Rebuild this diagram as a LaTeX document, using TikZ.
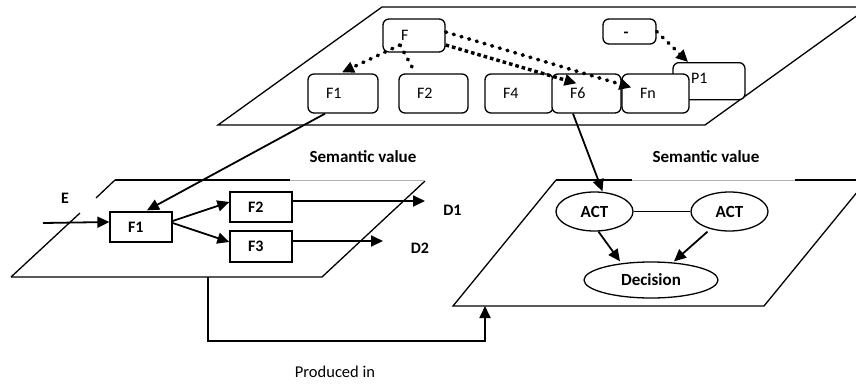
\documentclass[tikz,border=0pt]{standalone}
\usepackage{fontspec}
\setmainfont{Carlito}
\usetikzlibrary{arrows.meta,shapes.geometric,calc}
\begin{document}
\begin{tikzpicture}[x=1pt,y=-1pt,
  plane/.style={line width=1.3pt},
  faint/.style={line width=0.9pt,draw=black!30},
  rbox/.style={draw,line width=1.3pt,rounded corners=6pt,fill=white,inner xsep=18pt,inner ysep=0pt,align=left,font=\fontsize{16}{18}\selectfont},
  sbox/.style={draw,line width=1.3pt,fill=white,inner xsep=18pt,inner ysep=0pt,align=left,font=\fontsize{16}{18}\selectfont\bfseries},
  oval/.style={draw,ellipse,line width=1.3pt,fill=white,inner sep=0pt,font=\fontsize{17}{19}\selectfont\bfseries},
  blbl/.style={font=\fontsize{16}{18}\selectfont\bfseries,inner sep=0pt},
  sem/.style={font=\fontsize{17}{19}\selectfont\bfseries,inner sep=0pt},
  tip/.style={-{Triangle[length=12pt,width=11pt]}},
  conn/.style={line width=1.8pt,tip},
  dotarrow/.style={line width=3.6pt,dash pattern=on 1pt off 7pt,line cap=round,tip},
  dotline/.style={line width=3.6pt,dash pattern=on 1pt off 7pt,line cap=round},
  sqarrow/.style={line width=3.4pt,dash pattern=on 3.6pt off 3pt,tip},
]
\useasboundingbox (0,0) rectangle (856,383);
\begin{scope}
\clip (0,0) rectangle (856,383);
% ---------------- planes
\draw[plane] (218,125) -- (382,7) -- (869,7) -- (705,125) -- cycle;
% left plane
\draw[plane] (11,277) -- (322,277) -- (425,181);
\draw[plane] (115,180) -- (290,180);
\draw[faint] (290,180) -- (425,180);
\draw[plane] (11,277) -- (80,213);
\draw[plane] (96,198) -- (115,180);
% right plane
\draw[plane] (556,180) -- (453,306) -- (764,306) -- (867,180);
\draw[plane] (556,180) -- (632,180);
\draw[faint] (632,180) -- (795,180);
\draw[plane] (795,180) -- (867,180);
\end{scope}

% ---------------- top plane boxes
\node[rbox,minimum width=62pt,minimum height=33pt,text width=26pt] (F) at (414,35.5) {F};
\node[rbox,minimum width=53pt,minimum height=25pt,inner xsep=0pt,align=center] (dash) at (629.5,31.5) {};
\node[font=\fontsize{16}{18}\selectfont\bfseries,inner sep=0pt] (dashtxt) at (626,35) {-};
\node[rbox,minimum width=70pt,minimum height=39pt,text width=34pt] (T1) at (343,93.5) {F1};
\node[rbox,minimum width=69pt,minimum height=39pt,text width=33pt] (T2) at (433.5,93.5) {F2};
\node[rbox,minimum width=68pt,minimum height=39pt,text width=32pt] (T4) at (519,93.5) {F4};
\node[rbox,minimum width=69pt,minimum height=39pt,text width=33pt] (T6) at (586.5,93.5) {F6};
\node[rbox,minimum width=72pt,minimum height=37pt,text width=36pt,anchor=north] (P1) at (709,62) {\raisebox{5pt}{P1}\\[6pt]};
\node[rbox,minimum width=67pt,minimum height=39pt,text width=31pt] (Tn) at (655.5,93.5) {Fn};

% dotted connectors
\coordinate (Fs) at (400,45);
\draw[dotarrow] (Fs) -- ($(T1.north)+(-1,-1)$);
\draw[dotline] (Fs) -- ($(T2.north west)+(15,-4)$);
\draw[sqarrow] ($(F.east)+(0,9.5)$) -- ($(T6.north)+(-10,10)$);
\draw[dotarrow] ($(F.east)+(0,-3.5)$) -- ($(Tn.west)+(10,-6)$);
\draw[dotarrow] (dash.east) -- ($(P1.north)+(-21,0)$);

% ---------------- left plane
\node[sbox,minimum width=62pt,minimum height=30pt,text width=26pt] (L1) at (141,227) {F1};
\node[sbox,minimum width=62pt,minimum height=30pt,text width=26pt] (L2) at (261,207) {F2};
\node[sbox,minimum width=62pt,minimum height=31pt,text width=26pt] (L3) at (261,246.5) {F3};
\node[blbl] (E) at (65,198) {E};
\node[blbl] (D1) at (452.5,210) {D1};
\node[blbl] (D2) at (420,248) {D2};
\coordinate (ein) at (43,223);
\coordinate (d1end) at (425,201);
\coordinate (d2end) at (383,241);
\draw[conn] (ein) -- ($(L1.west)+(0,-5)$);
\draw[conn] ($(L1.east)+(0,-6)$) -- ($(L2.west)+(0,-5)$);
\draw[conn] ($(L1.east)+(0,-4)$) -- ($(L3.west)+(0,-4.5)$);
\draw[conn] ($(L2.east)+(0,-6)$) -- (d1end);
\draw[conn] ($(L3.east)+(0,-5.5)$) -- (d2end);
\draw[conn] ($(T1.south)+(-18,0)$) -- ($(L1.north)+(6,-1)$);

% ---------------- right plane
\node[oval,minimum width=77pt,minimum height=39pt] (A1) at (594.5,211.5) {ACT};
\node[oval,minimum width=77pt,minimum height=39pt] (A2) at (729.5,211.5) {ACT};
\node[oval,minimum width=134pt,minimum height=36pt] (Dec) at (651,280) {Decision};
\draw[line width=1.3pt] (A1.east) -- (A2.west);
\draw[conn] ($(T6.south)+(-13.5,0)$) -- ($(A1.north)+(8,0)$);
\draw[conn] ($(A1.south)+(4,0)$) -- ($(Dec.north)+(-31,0)$);
\draw[conn] ($(A2.south)+(-22,0)$) -- ($(Dec.north)+(23,0)$);

% labels
\node[sem] (sv1) at (363,157) {Semantic value};
\node[sem] (sv2) at (706,157) {Semantic value};
\node[font=\fontsize{16.5}{18}\selectfont,inner sep=0pt] (prod) at (335,372) {Produced in};

% bottom link
\coordinate (lp) at (208,277);
\coordinate (rp) at (485,306);
\draw[conn] (lp) -- ++(0,64) -| (rp);
\end{tikzpicture}
\end{document}
